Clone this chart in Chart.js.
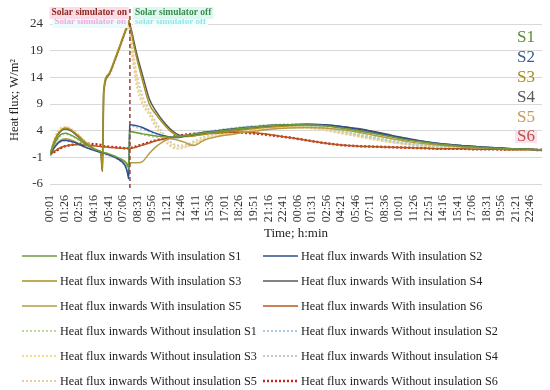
<!DOCTYPE html>
<html>
<head>
<meta charset="utf-8">
<script src="https://cdn.jsdelivr.net/npm/chart.js@4"></script>
<style>
  html, body { margin: 0; padding: 0; background: #fff; }
</style>
</head>
<body>
<canvas id="myChart" width="550" height="390"></canvas>
<script>
// time in minutes from the start of the test (00:00 of day 1)
const minutes = [0, 30, 60, 90, 120, 160, 200, 240, 280, 298, 306, 314, 340, 380, 420, 440, 452, 460, 466, 475,
  490, 510, 540, 580, 620, 660, 700, 740, 780, 840, 900, 980, 1060, 1140, 1220, 1300, 1400, 1500, 1600, 1700,
  1800, 1900, 2000, 2100, 2200, 2300, 2400, 2500, 2600, 2700, 2800, 2875];

// heat flux, W/m2 - with insulation
const s1With = [-0.5,1.8,3.2,3.5,3.2, 2.5,1.6,0.8,0.3,0.1, 0.0,-0.1,-0.3,-0.8,-1.4, -1.9,-2.5,-3.0,3.7,3.8, 3.7,3.6,3.4,3.2,3.0, 2.9,2.8,2.8,3.0,3.3, 3.6,3.9,4.2,4.5,4.8, 5.0,5.1,5.1,4.9,4.5, 4.0,3.4,2.8,2.2,1.8, 1.4,1.1,0.9,0.7,0.6, 0.5,0.4];
const s2With = [-0.5,1.0,2.0,2.2,2.0, 1.6,1.0,0.5,0.1,0.0, -0.1,-0.2,-0.5,-1.0,-1.8, -2.6,-3.8,-5.0,5.0,5.1, 5.0,4.9,4.6,4.0,3.5, 3.1,2.8,2.7,2.9,3.3, 3.7,4.0,4.3,4.6,4.8, 5.0,5.1,5.2,5.1,4.8, 4.3,3.7,3.0,2.4,1.9, 1.5,1.2,1.0,0.8,0.6, 0.5,0.4];
const s3With = [-0.5,2.5,4.0,4.5,4.2, 3.2,2.0,1.0,0.2,-0.3, -3.4,11.5,14.5,17.5,21.0, 22.8,23.8,24.7,23.8,22.5, 20.0,17.2,13.5,9.0,7.0, 5.4,4.0,3.1,2.9,3.0, 3.3,3.6,3.9,4.2,4.5, 4.7,4.9,5.0,4.9,4.6, 4.1,3.5,2.9,2.3,1.8, 1.4,1.1,0.9,0.7,0.6, 0.5,0.4];
const s4With = [-0.5,2.3,3.8,4.3,4.0, 3.0,1.9,0.9,0.2,-0.4, -3.6,11.2,14.3,17.3,20.8, 22.6,23.6,24.5,24.0,23.0, 20.8,18.0,14.5,10.0,7.6, 5.8,4.4,3.4,3.0,3.1, 3.4,3.8,4.1,4.4,4.7, 4.9,5.1,5.2,5.1,4.8, 4.4,3.8,3.1,2.5,1.9, 1.5,1.2,1.0,0.8,0.6, 0.5,0.4];
const s5With = [-0.5,1.2,2.2,2.5,2.3, 1.7,1.0,0.5,0.2,0.0, -0.1,-0.2,-0.5,-1.0,-1.5, -1.8,-2.2,-2.5,-2.0,-2.0, -2.0,-2.0,-1.8,-0.3,1.0, 1.9,2.5,2.3,1.9,1.2, 2.2,2.9,3.3,3.7,4.0, 4.3,4.5,4.6,4.5,4.2, 3.7,3.1,2.5,1.9,1.5, 1.2,1.0,0.8,0.7,0.6, 0.5,0.4];
const s6With = [-0.5,0.2,0.8,1.1,1.3, 1.4,1.3,1.2,1.1,1.0, 1.0,1.0,0.9,0.8,0.7, 0.7,0.7,0.7,0.7,0.7, 0.8,1.0,1.3,1.7,2.1, 2.4,2.7,2.9,3.1,3.3, 3.5,3.6,3.7,3.7,3.5, 3.2,2.7,2.2,1.7,1.3, 1.1,1.0,0.9,0.8,0.7, 0.6,0.6,0.5,0.5,0.4, 0.4,0.4];

// heat flux, W/m2 - without insulation
const s1Without = [-0.5,1.6,3.0,3.4,3.1, 2.4,1.5,0.8,0.3,0.1, 0.0,-0.2,-0.4,-0.9,-1.6, -2.2,-2.9,-3.4,3.9,4.0, 3.8,3.6,3.3,3.0,2.8, 2.7,2.7,2.8,3.0,3.4, 3.7,4.0,4.4,4.7,4.9, 5.1,5.2,5.0,4.6,4.0, 3.4,2.8,2.2,1.6,1.2, 1.0,0.8,0.7,0.6,0.5, 0.4,0.3];
const s2Without = [-0.5,1.1,1.9,2.1,1.9, 1.5,1.0,0.5,0.1,0.0, -0.1,-0.3,-0.6,-1.1,-1.9, -2.7,-3.6,-4.6,4.8,4.9, 4.8,4.6,4.3,3.8,3.4, 3.0,2.8,2.8,3.0,3.4, 3.8,4.1,4.4,4.7,4.9, 5.0,5.1,4.9,4.5,3.9, 3.2,2.6,2.0,1.5,1.2, 1.0,0.8,0.7,0.6,0.5, 0.4,0.3];
const s3Without = [-0.5,2.6,4.2,4.6,4.3, 3.3,2.1,1.0,0.2,-0.2, -3.2,11.6,14.6,17.6,21.1, 22.9,23.9,24.6,23.0,20.5, 17.0,13.0,9.5,7.2,5.0, 3.0,1.6,1.0,1.0,1.8, 2.6,3.2,3.7,4.0,4.3, 4.5,4.7,4.6,4.2,3.6, 3.0,2.4,1.8,1.4,1.1, 0.9,0.8,0.7,0.6,0.5, 0.4,0.3];
const s4Without = [-0.5,2.4,3.9,4.4,4.1, 3.1,2.0,0.9,0.2,-0.3, -3.5,11.3,14.4,17.4,20.9, 22.7,23.7,24.4,23.2,21.0, 17.8,14.0,10.5,7.8,5.5, 3.5,2.0,1.3,1.2,2.0, 2.8,3.4,3.8,4.1,4.4, 4.6,4.8,4.7,4.3,3.7, 3.1,2.5,1.9,1.4,1.1, 0.9,0.8,0.7,0.6,0.5, 0.4,0.3];
const s5Without = [-0.5,2.8,4.4,4.7,4.4, 3.4,2.2,1.1,0.3,-0.2, -3.0,11.0,14.0,17.0,20.5, 22.3,23.3,24.2,22.5,19.5, 15.8,12.0,9.0,7.0,4.5, 2.5,1.2,0.6,0.8,1.5, 2.4,3.0,3.5,3.9,4.2, 4.4,4.6,4.5,4.1,3.5, 2.9,2.3,1.8,1.4,1.1, 0.9,0.8,0.7,0.6,0.5, 0.4,0.3];
const s6Without = [-0.5,0.1,0.7,1.1,1.3, 1.5,1.6,1.5,1.4,1.3, 1.2,1.1,1.0,0.9,0.8, 0.7,0.7,0.6,0.7,0.8, 0.9,1.1,1.4,1.8,2.2, 2.5,2.7,3.0,3.2,3.4, 3.5,3.6,3.7,3.6,3.4, 3.1,2.7,2.2,1.7,1.3, 1.1,1.0,0.9,0.8,0.7, 0.6,0.6,0.5,0.5,0.4, 0.4,0.4];

const surfaceNames = ["S1", "S2", "S3", "S4", "S5", "S6"];
const yTickValues = [-6, -1, 4, 9, 14, 19, 24];
const xTickLabels = ["00:01","01:26","02:51","04:16","05:41","07:06","08:31","09:56","11:21","12:46","14:11","15:36",
  "17:01","18:26","19:51","21:16","22:41","00:06","01:31","02:56","04:21","05:46","07:11","08:36","10:01","11:26",
  "12:51","14:16","15:41","17:06","18:31","19:56","21:21","22:46"];
const xTickStep = 85;      // minutes between x labels
const switchOffMinute = 467;

const withColors = ["#6f9a3f", "#2f4f8c", "#a88f1a", "#595959", "#b99a45", "#b8541c"];
const withoutColors = ["#b9d89b", "#a9c8e8", "#f1de84", "#c9c9c9", "#ebc9a2", "#c0281f"];
const labelColors = ["#5e8a32", "#3d5e90", "#a88c1c", "#5a5a5a", "#c49a58", "#c0504d"];

const withSeries = [s1With, s2With, s3With, s4With, s5With, s6With];
const withoutSeries = [s1Without, s2Without, s3Without, s4Without, s5Without, s6Without];

const toPoints = (vals) => minutes.map((m, i) => ({ x: m, y: vals[i] }));

const datasets = [];
withSeries.forEach((vals, i) => {
  datasets.push({
    label: `Heat flux inwards With insulation ${surfaceNames[i]}`,
    data: toPoints(vals),
    borderColor: withColors[i],
    borderWidth: 1.5,
    pointRadius: 0,
    cubicInterpolationMode: "monotone",
  });
});
withoutSeries.forEach((vals, i) => {
  datasets.push({
    label: `Heat flux inwards Without insulation ${surfaceNames[i]}`,
    data: toPoints(vals),
    borderColor: withoutColors[i],
    borderWidth: i === 5 ? 2.5 : 2,
    borderDash: [2, 2],
    pointRadius: 0,
    cubicInterpolationMode: "monotone",
  });
});

const SERIF = "'Liberation Serif', 'Times New Roman', serif";

function textWithBox(ctx, text, x, y, align, color, bg) {
  const w = ctx.measureText(text).width;
  const left = align === "right" ? x - w : x;
  if (bg) {
    ctx.fillStyle = bg;
    ctx.fillRect(left - 2, y - 6, w + 4, 12);
  }
  ctx.fillStyle = color;
  ctx.textAlign = "left";
  ctx.fillText(text, left, y);
}

const extras = {
  id: "extras",
  afterDatasetsDraw(chart) {
    const ctx = chart.ctx;
    const area = chart.chartArea;
    const sx = chart.scales.x.getPixelForValue(switchOffMinute);
    ctx.save();
    ctx.textBaseline = "middle";

    // faint duplicate of the notes
    ctx.font = `bold 9px ${SERIF}`;
    textWithBox(ctx, "Solar simulator on", sx - 4, 22, "right", "#f6a6dc", "#e9fbfb");
    textWithBox(ctx, "solar simulator off", sx + 5, 22, "left", "#8fe6e6", "#f4fefe");

    ctx.strokeStyle = "#9c3b33";
    ctx.lineWidth = 1.5;
    ctx.setLineDash([4, 3]);
    ctx.beginPath();
    ctx.moveTo(sx, 9);
    ctx.lineTo(sx, area.bottom + 6);
    ctx.stroke();
    ctx.setLineDash([]);

    ctx.font = `bold 9.5px ${SERIF}`;
    textWithBox(ctx, "Solar simulator on", sx - 3, 13, "right", "#8c2a22", "#fbdde8");
    textWithBox(ctx, "Solar simulator off", sx + 5, 13, "left", "#3c8c4e", "#dcf8f1");

    // surface names on the right
    ctx.font = `17px ${SERIF}`;
    surfaceNames.forEach((name, i) => {
      const y = 38 + i * 19.8;
      textWithBox(ctx, name, area.right - 7, y, "right", labelColors[i], i === 5 ? "#fbe3ec" : null);
    });
    ctx.restore();
  },
  afterDraw(chart) {
    const ctx = chart.ctx;
    ctx.save();
    ctx.font = `12.2px ${SERIF}`;
    ctx.textBaseline = "middle";
    ctx.textAlign = "left";
    chart.data.datasets.forEach((ds, i) => {
      const col = i % 2;
      const row = Math.floor(i / 2);
      const x0 = col ? 263 : 22;
      const y = 256 + row * 25;
      ctx.strokeStyle = ds.borderColor;
      ctx.lineWidth = ds.borderWidth;
      ctx.setLineDash(ds.borderDash || []);
      ctx.beginPath();
      ctx.moveTo(x0, y);
      ctx.lineTo(x0 + 35, y);
      ctx.stroke();
      ctx.setLineDash([]);
      ctx.fillStyle = "#222";
      ctx.fillText(ds.label, x0 + 38, y + 1);
    });
    ctx.restore();
  },
};

const config = {
  type: "line",
  data: { datasets: datasets },
  options: {
    responsive: false,
    animation: false,
    devicePixelRatio: 1,
    layout: { padding: { top: 16, right: 8, bottom: 145, left: 7 } },
    plugins: {
      legend: { display: false },
      tooltip: { enabled: false },
    },
    scales: {
      x: {
        type: "linear",
        min: 0,
        max: 2875,
        grid: { display: false },
        border: { display: false },
        afterBuildTicks: (scale) => {
          scale.ticks = xTickLabels.map((lab, i) => ({ value: 1 + i * xTickStep, label: lab }));
        },
        afterFit: (scale) => { scale.height = 61; },
        ticks: {
          autoSkip: false,
          minRotation: 90,
          maxRotation: 90,
          padding: 3,
          color: "#333",
          font: { family: SERIF, size: 12 },
          callback: (val, index) => xTickLabels[index],
        },
        title: {
          display: true,
          text: "Time; h:min",
          color: "#222",
          font: { family: SERIF, size: 13 },
          padding: { top: 2, bottom: 4 },
        },
      },
      y: {
        min: -6,
        max: 25.5,
        afterBuildTicks: (scale) => {
          scale.ticks = yTickValues.map((v) => ({ value: v }));
        },
        afterFit: (scale) => { scale.width = 43; },
        grid: { color: "#d9d9d9", lineWidth: 1, drawTicks: false },
        border: { display: false },
        ticks: {
          padding: 7,
          color: "#333",
          font: { family: SERIF, size: 13 },
        },
        title: {
          display: true,
          text: "Heat flux; W/m²",
          color: "#222",
          font: { family: SERIF, size: 12.5 },
          padding: { top: 0, bottom: 2 },
        },
      },
    },
  },
  plugins: [extras],
};

new Chart(document.getElementById("myChart"), config);
</script>
</body>
</html>
